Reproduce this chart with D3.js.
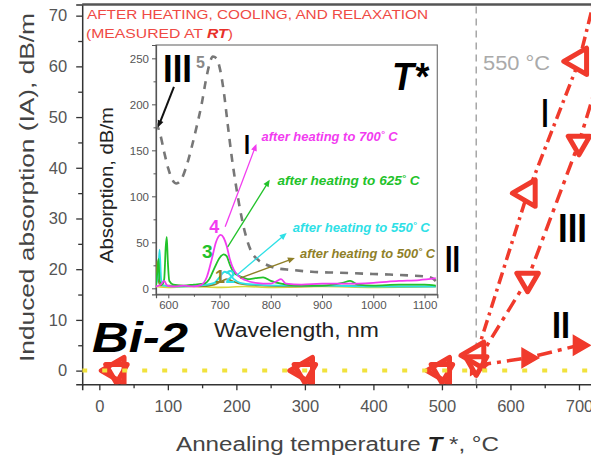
<!DOCTYPE html>
<html>
<head>
<meta charset="utf-8">
<script src="https://cdn.jsdelivr.net/npm/d3@7"></script>
<style>
  html, body { margin: 0; padding: 0; background: #fff; }
  svg { display: block; font-family: "Liberation Sans", Arial, sans-serif; }
</style>
</head>
<body>
<svg id="chart" width="591" height="459"></svg>
<script>
// ---------- Main panel data: induced absorption vs annealing temperature ----------
const tempsRT = [25, 300, 500];          // samples that show no induced absorption
const iaRT = [0, 0, 0];
const tempsI = [550, 625, 700, 750];     // band I
const iaI = [3, 35, 61, 88];
const tempsIII = [550, 625, 700, 750];   // band III
const iaIII = [1.5, 18, 45, 67];
const tempsII = [550, 625, 700];         // band II
const iaII = [1, 2.5, 5];

const xTickVals = [0, 100, 200, 300, 400, 500, 600, 700];
const xMinorVals = [50, 150, 250, 350, 450, 550, 650, 750];
const yTickVals = [0, 10, 20, 30, 40, 50, 60, 70];
const yMinorVals = [5, 15, 25, 35, 45, 55, 65];
const thresholdTemp = 550;

// ---------- Inset data: absorption spectra (wavelength nm, dB/m) ----------
const specInitial = [[576,180],[584,168],[592,148],[600,130],[608,118],[616,114],[625,118],[635,132],[645,152],[655,175],[665,200],[673,225],[680,243],[687,252],[694,250],[701,238],[708,215],[716,178],[724,142],[732,112],[740,86],[750,60],[762,40],[775,31],[790,26],[810,22],[840,20],[880,18],[930,17],[980,16],[1030,15],[1070,14],[1100,13],[1115,11],[1122,8]];
const spec700 = [[576,2],[585,4],[592,8],[598,3],[610,2],[630,3],[650,2],[665,4],[675,12],[685,32],[693,50],[702,58],[708,55],[714,46],[720,32],[728,20],[738,13],[750,9],[770,6],[800,5],[812,8],[820,10],[830,5],[860,4],[900,5],[950,5],[1000,6],[1050,8],[1090,9],[1122,11]];
const spec625 = [[576,3],[579,20],[581,32],[583,8],[588,4],[592,10],[595,45],[597,56],[599,30],[602,8],[610,4],[630,3],[650,4],[670,5],[680,10],[690,22],[700,33],[708,37],[714,35],[720,26],[728,17],[740,13],[755,10],[770,11],[785,12],[800,8],[820,5],[850,3],[900,3],[940,6],[955,8],[970,4],[1000,3],[1050,4],[1100,4],[1122,3]];
const spec550 = [[576,4],[580,15],[583,42],[586,10],[590,3],[620,2],[660,3],[690,6],[700,12],[710,18],[718,16],[728,10],[740,6],[770,4],[820,3],[900,3],[1000,2],[1122,2]];
const spec500 = [[576,5],[578,30],[580,10],[585,3],[620,3],[660,2],[690,4],[705,8],[715,10],[725,8],[740,5],[780,3],[850,2],[950,3],[1050,2],[1122,2]];
const specRT = [[576,2],[600,1],[650,2],[700,1],[750,2],[800,1],[900,2],[1000,1],[1122,2]];

const insetXTicks = [600, 700, 800, 900, 1000, 1100];
const insetXMinor = [650, 750, 850, 950, 1050];
const insetYTicks = [0, 50, 100, 150, 200, 250];
const insetYMinor = [25, 75, 125, 175, 225];

// Inset annotations, positioned in (nm, dB/m)
const annotations = [
  { label: "after heating to 700", color: "#f23cf0", from: [711, 67], to: [772, 157], text: [782, 160], width: 136 },
  { label: "after heating to 625", color: "#22c22a", from: [716, 45], to: [798, 118], text: [813, 112], width: 142 },
  { label: "after heating to 550", color: "#2ee0e6", from: [733, 14], to: [831, 60], text: [843, 61], width: 137 },
  { label: "after heating to 500", color: "#8f7f28", from: [740, 11], to: [847, 33], text: [857, 33], width: 135 }
];

const RED = "#f03a2c";
const svg = d3.select("#chart");

// ---------- Main scales ----------
const x = d3.scaleLinear().domain([-25, 800]).range([82.2, 647.5]);
const y = d3.scaleLinear().domain([-2.7, 72.2]).range([384.3, 4.5]);
const plotLeft = x.range()[0], plotBottom = y.range()[0], plotTop = y.range()[1];

svg.append("defs").append("clipPath").attr("id", "plotClip")
  .append("rect").attr("x", plotLeft).attr("y", plotTop).attr("width", 591 - plotLeft).attr("height", plotBottom - plotTop);

// Axes
svg.append("g").attr("transform", `translate(0,${plotBottom})`)
  .call(d3.axisBottom(x).tickValues(xTickVals).tickSize(6).tickPadding(10).tickFormat(d3.format("d")));
svg.append("g").attr("transform", `translate(0,${plotBottom})`)
  .call(d3.axisBottom(x).tickValues(xMinorVals).tickSize(4).tickFormat(""))
  .select(".domain").remove();
svg.append("g").attr("transform", `translate(${plotLeft},0)`)
  .call(d3.axisLeft(y).tickValues(yTickVals).tickSize(6).tickPadding(9));
svg.append("g").attr("transform", `translate(${plotLeft},0)`)
  .call(d3.axisLeft(y).tickValues(yMinorVals).tickSize(4).tickFormat(""))
  .select(".domain").remove();
svg.selectAll(".domain").attr("stroke", "#333").attr("stroke-width", 1.5);
svg.selectAll(".tick line").attr("stroke", "#333").attr("stroke-width", 1.3);
svg.selectAll(".tick text").attr("font-size", 16.5).attr("fill", "#555")
  .attr("font-family", "Liberation Sans, Arial, sans-serif");

// Top frame
svg.append("line").attr("x1", plotLeft).attr("x2", 591).attr("y1", plotTop).attr("y2", plotTop)
  .attr("stroke", "#555").attr("stroke-width", 2.5);

// Axis titles
svg.append("text")
  .attr("transform", `translate(34,${(13 + 362) / 2}) rotate(-90)`)
  .attr("text-anchor", "middle").attr("font-size", 20).attr("fill", "#444")
  .attr("textLength", 349).attr("lengthAdjust", "spacingAndGlyphs")
  .text("Induced absorption (IA), dB/m");

const xt = svg.append("text").attr("x", 176).attr("y", 451).attr("font-size", 20).attr("fill", "#444")
  .attr("textLength", 323).attr("lengthAdjust", "spacingAndGlyphs");
xt.append("tspan").text("Annealing temperature ");
xt.append("tspan").attr("font-style", "italic").attr("font-weight", "bold").attr("fill", "#222").text("T");
xt.append("tspan").text(" *, °C");

// Heading
svg.append("text").attr("x", 87).attr("y", 19).attr("font-size", 13.5).attr("fill", "#ef4a44")
  .attr("textLength", 341).attr("lengthAdjust", "spacingAndGlyphs")
  .text("AFTER HEATING, COOLING, AND RELAXATION");
const h2 = svg.append("text").attr("x", 86).attr("y", 38).attr("font-size", 13.5).attr("fill", "#ef4a44")
  .attr("textLength", 147).attr("lengthAdjust", "spacingAndGlyphs");
h2.append("tspan").text("(MEASURED AT ");
h2.append("tspan").attr("font-weight", "bold").attr("font-style", "italic").attr("fill", "#e8302a").text("RT");
h2.append("tspan").text(")");

// Threshold line at 550 °C
svg.append("line").attr("x1", x(thresholdTemp)).attr("x2", x(thresholdTemp))
  .attr("y1", plotTop + 2).attr("y2", plotBottom)
  .attr("stroke", "#999").attr("stroke-width", 1.3).attr("stroke-dasharray", "7,5");
svg.append("text").attr("x", 483).attr("y", 70).attr("font-size", 20).attr("fill", "#aaa")
  .attr("textLength", 67).attr("lengthAdjust", "spacingAndGlyphs").text("550 °C");

// Bi-2 label
svg.append("text").attr("x", 92).attr("y", 352).attr("font-size", 42).attr("font-weight", "bold")
  .attr("font-style", "italic").attr("fill", "#000")
  .attr("textLength", 96).attr("lengthAdjust", "spacingAndGlyphs").text("Bi-2");

// ---------- Inset ----------
const ix = d3.scaleLinear().domain([576, 1125]).range([156, 437.3]);
const iy = d3.scaleLinear().domain([-6.5, 264.5]).range([294.3, 45]);
const inset = svg.append("g");
inset.append("rect").attr("x", ix.range()[0]).attr("y", iy.range()[1])
  .attr("width", ix.range()[1] - ix.range()[0]).attr("height", iy.range()[0] - iy.range()[1])
  .attr("fill", "#fff").attr("stroke", "#777").attr("stroke-width", 1.2);
svg.select("defs").append("clipPath").attr("id", "insetClip")
  .append("rect").attr("x", ix.range()[0]).attr("y", iy.range()[1])
  .attr("width", ix.range()[1] - ix.range()[0]).attr("height", iy.range()[0] - iy.range()[1]);

inset.append("g").attr("class", "iax").attr("transform", `translate(0,${iy.range()[0]})`)
  .call(d3.axisBottom(ix).tickValues(insetXTicks).tickSize(4).tickPadding(3).tickFormat(d3.format("d")));
inset.append("g").attr("class", "iax").attr("transform", `translate(0,${iy.range()[0]})`)
  .call(d3.axisBottom(ix).tickValues(insetXMinor).tickSize(2.5).tickFormat(""))
  .select(".domain").remove();
inset.append("g").attr("class", "iax").attr("transform", `translate(${ix.range()[0]},0)`)
  .call(d3.axisLeft(iy).tickValues(insetYTicks).tickSize(4).tickPadding(3).tickFormat(d3.format("d")));
inset.append("g").attr("class", "iax").attr("transform", `translate(${ix.range()[0]},0)`)
  .call(d3.axisLeft(iy).tickValues(insetYMinor).tickSize(2.5).tickFormat(""))
  .select(".domain").remove();
inset.selectAll(".iax .domain").attr("stroke", "#555").attr("stroke-width", 1.2);
inset.selectAll(".iax .tick line").attr("stroke", "#555");
inset.selectAll(".iax .tick text").attr("font-size", 11.5).attr("fill", "#555")
  .attr("font-family", "Liberation Sans Narrow, Arial Narrow, sans-serif");

inset.append("text")
  .attr("transform", `translate(113,185) rotate(-90)`)
  .attr("text-anchor", "middle").attr("font-size", 19).attr("fill", "#222")
  .attr("font-family", "Liberation Sans Narrow, Arial Narrow, sans-serif")
  .attr("textLength", 156).attr("lengthAdjust", "spacingAndGlyphs")
  .text("Absorption, dB/m");
inset.append("text").attr("x", 214).attr("y", 337).attr("font-size", 20).attr("fill", "#222")
  .attr("font-family", "Liberation Sans Narrow, Arial Narrow, sans-serif")
  .attr("textLength", 165).attr("lengthAdjust", "spacingAndGlyphs")
  .text("Wavelength, nm");

const spectrum = d3.line().x(d => ix(d[0])).y(d => iy(d[1])).curve(d3.curveMonotoneX);
const specG = inset.append("g").attr("clip-path", "url(#insetClip)");
const spectra = [
  { data: specRT, color: "#d8d83a", w: 1.6 },
  { data: spec500, color: "#8f7f28", w: 1.6 },
  { data: spec550, color: "#2ee0e6", w: 1.8 },
  { data: spec625, color: "#22c22a", w: 1.8 },
  { data: spec700, color: "#f23cf0", w: 1.8 }
];
specG.append("path").datum(specInitial).attr("d", spectrum).attr("fill", "none")
  .attr("stroke", "#777").attr("stroke-width", 2.6).attr("stroke-dasharray", "8,7");
spectra.forEach(s => {
  specG.append("path").datum(s.data).attr("d", spectrum).attr("fill", "none")
    .attr("stroke", s.color).attr("stroke-width", s.w);
});

// Arrow helper working in inset data units
function arrow(g, from, to, color, width) {
  const x1 = ix(from[0]), y1 = iy(from[1]), x2 = ix(to[0]), y2 = iy(to[1]);
  const a = Math.atan2(y2 - y1, x2 - x1), L = 7, S = 3;
  g.append("line").attr("x1", x1).attr("y1", y1).attr("x2", x2 - Math.cos(a) * 4).attr("y2", y2 - Math.sin(a) * 4)
    .attr("stroke", color).attr("stroke-width", width);
  const bx = x2 - Math.cos(a) * L, by = y2 - Math.sin(a) * L;
  g.append("path").attr("d", `M${x2},${y2}L${bx - Math.sin(a) * S},${by + Math.cos(a) * S}L${bx + Math.sin(a) * S},${by - Math.cos(a) * S}Z`)
    .attr("fill", color);
}
annotations.forEach(an => {
  arrow(inset, an.from, an.to, an.color, 1.3);
  const t = inset.append("text").attr("x", ix(an.text[0])).attr("y", iy(an.text[1]))
    .attr("font-size", 12).attr("font-style", "italic").attr("font-weight", "bold").attr("fill", an.color)
    .attr("font-family", "Liberation Sans Narrow, Arial Narrow, sans-serif")
    .attr("textLength", an.width).attr("lengthAdjust", "spacingAndGlyphs");
  t.append("tspan").text(an.label);
  t.append("tspan").attr("font-size", 9).attr("dy", -4).text("°");
  t.append("tspan").attr("dy", 4).text(" C");
});
arrow(inset, [611, 219], [580, 175], "#111", 2);

// Curve numbers
const curveNums = [
  { n: "5", color: "#888", at: [654, 240], size: 16 },
  { n: "4", color: "#f23cf0", at: [680, 60], size: 18 },
  { n: "3", color: "#22c22a", at: [666, 33], size: 19 },
  { n: "1", color: "#8f7f28", at: [691, 6], size: 18 },
  { n: "2", color: "#2ee0e6", at: [711, 6], size: 18 }
];
curveNums.forEach(c => {
  inset.append("text").attr("x", ix(c.at[0])).attr("y", iy(c.at[1])).attr("font-size", c.size)
    .attr("font-weight", "bold").attr("fill", c.color).text(c.n);
});

inset.append("text").attr("x", 392).attr("y", 90).attr("font-size", 38).attr("font-weight", "bold")
  .attr("font-style", "italic").attr("fill", "#000")
  .attr("textLength", 36).attr("lengthAdjust", "spacingAndGlyphs").text("T*");

// ---------- Main data ----------
const plot = svg.append("g").attr("clip-path", "url(#plotClip)");
const line = d3.line().x(d => x(d[0])).y(d => y(d[1]));
const zip = (a, b) => a.map((v, i) => [v, b[i]]);

plot.append("path").datum(zip(tempsII, iaII)).attr("d", line).attr("fill", "none")
  .attr("stroke", RED).attr("stroke-width", 3.5).attr("stroke-dasharray", "15,6,4,6");
plot.append("path").datum(zip(tempsIII, iaIII)).attr("d", line).attr("fill", "none")
  .attr("stroke", RED).attr("stroke-width", 3.5).attr("stroke-dasharray", "14,6,4,6");
plot.append("path").datum(zip(tempsI, iaI)).attr("d", line).attr("fill", "none")
  .attr("stroke", RED).attr("stroke-width", 3.5).attr("stroke-dasharray", "12,5,3,5");

const triLeft = d3.symbol().type(d3.symbolTriangle).size(300);
const triDown = d3.symbol().type(d3.symbolTriangle).size(200);
const triRight = d3.symbol().type(d3.symbolTriangle).size(160);

// Filled right triangles (band II)
plot.selectAll(".mII").data(zip(tempsII, iaII)).join("path")
  .attr("d", triRight).attr("transform", d => `translate(${x(d[0])},${y(d[1])}) rotate(90)`)
  .attr("fill", RED).attr("stroke", RED).attr("stroke-width", 1.5);

// Hollow markers: white fill first, then thick red outlines
const hollow = [];
zip(tempsRT, iaRT).forEach(d => { hollow.push({ d, s: triDown, r: 180 }); hollow.push({ d, s: triLeft, r: -90 }); });
zip(tempsIII, iaIII).forEach(d => hollow.push({ d, s: triDown, r: 180 }));
zip(tempsI, iaI).forEach(d => hollow.push({ d, s: triLeft, r: -90 }));
plot.selectAll(".mFill").data(hollow).join("path")
  .attr("d", m => m.s()).attr("transform", m => `translate(${x(m.d[0])},${y(m.d[1])}) rotate(${m.r})`)
  .attr("fill", "#fff");
plot.selectAll(".mStroke").data(hollow).join("path")
  .attr("d", m => m.s()).attr("transform", m => `translate(${x(m.d[0])},${y(m.d[1])}) rotate(${m.r})`)
  .attr("fill", "none").attr("stroke", RED).attr("stroke-width", 5).attr("stroke-linejoin", "round");

// Zero-level dotted line
plot.append("line").attr("x1", plotLeft).attr("x2", 591).attr("y1", y(0)).attr("y2", y(0))
  .attr("stroke", "#f1e23c").attr("stroke-width", 4).attr("stroke-dasharray", "5,15");

// Band labels
const bandLabels = [
  { t: "I", x: 545, y: 127, size: 40, w: 7 },
  { t: "III", x: 572.5, y: 242, size: 40, w: 29 },
  { t: "II", x: 561, y: 338, size: 36, w: 18 },
  { t: "II", x: 452.5, y: 272, size: 37, w: 15 },
  { t: "I", x: 247, y: 154, size: 28, w: 6 },
  { t: "III", x: 177.5, y: 82, size: 39, w: 29 }
];
bandLabels.forEach(b => {
  svg.append("text").attr("x", b.x).attr("y", b.y).attr("text-anchor", "middle")
    .attr("font-size", b.size).attr("font-weight", "bold").attr("fill", "#000")
    .attr("textLength", b.w).attr("lengthAdjust", "spacingAndGlyphs").text(b.t);
});
</script>
</body>
</html>
